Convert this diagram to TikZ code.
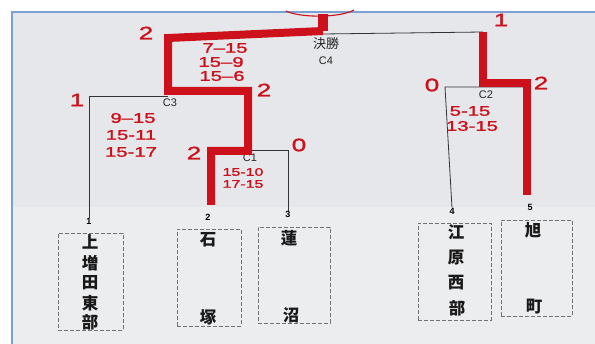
\documentclass[tikz,border=0pt]{standalone}
\usepackage{fontspec}
\setmainfont{Liberation Sans}
\newfontfamily\cjk{Noto Sans CJK JP}
\newfontfamily\hand{Liberation Sans}[FakeStretch=1.45,FakeBold=1.6]
\definecolor{pred}{HTML}{CC111C}
\definecolor{bgc}{HTML}{E6E7EA}
\definecolor{bgl}{HTML}{ECEDEF}
\definecolor{frameblue}{HTML}{7BA0D4}
\begin{document}
\begin{tikzpicture}[x=1pt,y=-1pt,
 redline/.style={line width=8pt,draw=pred,line cap=square,line join=miter},
 blackline/.style={line width=0.8pt,draw=black!80},
 redn/.style={text=pred,font=\hand\fontsize{18}{18}\selectfont,inner sep=0},
 score/.style={text=pred,font=\hand\fontsize{14}{14}\selectfont,inner sep=0},
 smallscore/.style={text=pred,font=\hand\fontsize{11}{11}\selectfont,inner sep=0},
 clab/.style={font=\fontsize{11}{11}\selectfont,inner sep=0,text=black!85},
 numlab/.style={font=\bfseries\fontsize{9}{9}\selectfont,inner sep=0},
 teambox/.style={draw=black!55,line width=0.9pt,dash pattern=on 4pt off 2pt,inner sep=0},
 kanji/.style={font=\cjk\bfseries\fontsize{16.5}{16.5}\selectfont,inner sep=0,text=black!90}]
\useasboundingbox (0,0) rectangle (595,344);
% background
\fill[white] (0,0) rectangle (595,344);
\fill[bgc] (12,12) rectangle (595,344);
\fill[bgl] (13,207) rectangle (595,344);
\draw[frameblue,line width=1.5pt] (12,344) -- (12,12) -- (595,12);
% red circle remnant at top
\draw[pred,line width=1.1pt] (286,11) .. controls (300,18) and (340,18) .. (354,10);

% team numbers
\node[numlab] (t1) at (89,221) {1};
\node[numlab] (t2) at (208,217) {2};
\node[numlab] (t3) at (288,214) {3};
\node[numlab] (t4) at (452,211) {4};
\node[numlab] (t5) at (530,207) {5};

% team boxes
\node[teambox,minimum width=65pt,minimum height=97pt] (box1) at (90.5,281.5) {};
\node[teambox,minimum width=64pt,minimum height=97pt] (box2) at (209,277.5) {};
\node[teambox,minimum width=72pt,minimum height=96pt] (box3) at (294,275) {};
\node[teambox,minimum width=73pt,minimum height=97pt] (box4) at (454.5,271.5) {};
\node[teambox,minimum width=71pt,minimum height=96pt] (box5) at (536.5,268) {};

\node[kanji] (k11) at (90,242) {上};
\node[kanji] (k12) at (90,263) {増};
\node[kanji] (k13) at (90,283) {田};
\node[kanji] (k14) at (90,303) {東};
\node[kanji] (k15) at (90,322) {部};
\node[kanji] (k21) at (208,240) {石};
\node[kanji] (k22) at (208,317) {塚};
\node[kanji] (k31) at (289,238) {蓮};
\node[kanji] (k32) at (291,315) {沼};
\node[kanji] (k41) at (456,232) {江};
\node[kanji] (k42) at (456,258) {原};
\node[kanji] (k43) at (456,283) {西};
\node[kanji] (k44) at (457,308) {部};
\node[kanji] (k51) at (533,230) {旭};
\node[kanji] (k52) at (534,307) {町};

% match labels
\node[clab,font=\cjk\fontsize{13}{13}\selectfont] (c4a) at (326,44) {決勝};
\node[clab] (c4) at (326,61) {C4};
\node[clab] (c3) at (170,103) {C3};
\node[clab] (c1) at (250,158) {C1};
\node[clab] (c2) at (486,95) {C2};

% bracket corner coordinates
\coordinate (Ftop) at (323,14);
\coordinate (F) at (323,31);
\coordinate (FR) at (323,34);
\coordinate (L4) at (168,38);
\coordinate (R4) at (483,32);
\coordinate (C3j) at (168,91);
\coordinate (C3b) at (168,96);
\coordinate (C3r) at (248,91);
\coordinate (C1j) at (248,151);
\coordinate (C1b) at (248,150);
\coordinate (C1l) at (211,151);
\coordinate (T2top) at (211,205);
\coordinate (C2j) at (483,83);
\coordinate (C2r) at (527,83);
\coordinate (T5top) at (527,195);
\coordinate (C2b) at (527,87);
\coordinate (C2l) at (445,87);

% black bracket lines
\draw[blackline] (FR) -- (R4);
\draw[blackline] (C3b) -| (t1.north);
\draw[blackline] (C1b) -| (t3.north);
\draw[blackline] (C2b) -- (C2l) -- (t4.north);

% red winner paths
\draw[pred,line width=10pt] (Ftop) -- (F);
\draw[redline] (F) -- (L4) -- (C3j) -- (C3r) -- (C1j) -- (C1l) -- (T2top);
\draw[redline] (R4) -- (C2j) -- (C2r) -- (T5top);

% red set counts
\node[redn] (s4l) at (146,33) {2};
\node[redn] (s4r) at (501,20) {1};
\node[redn] (s3l) at (77,100) {1};
\node[redn] (s3r) at (264,90) {2};
\node[redn] (s1l) at (194,153) {2};
\node[redn] (s1r) at (299,145) {0};
\node[redn] (s2l) at (432,85) {0};
\node[redn] (s2r) at (541,83) {2};

% red scores
\node[score] (sc4a) at (225,48) {7–15};
\node[score] (sc4b) at (221,62) {15–9};
\node[score] (sc4c) at (222,76) {15–6};
\node[score] (sc3a) at (133,118) {9–15};
\node[score] (sc3b) at (131,135) {15-11};
\node[score] (sc3c) at (131,152) {15-17};
\node[smallscore] (sc1a) at (243,172) {15-10};
\node[smallscore] (sc1b) at (243,184) {17-15};
\node[score] (sc2a) at (470,111) {5-15};
\node[score] (sc2b) at (472,126) {13-15};
\end{tikzpicture}
\end{document}
